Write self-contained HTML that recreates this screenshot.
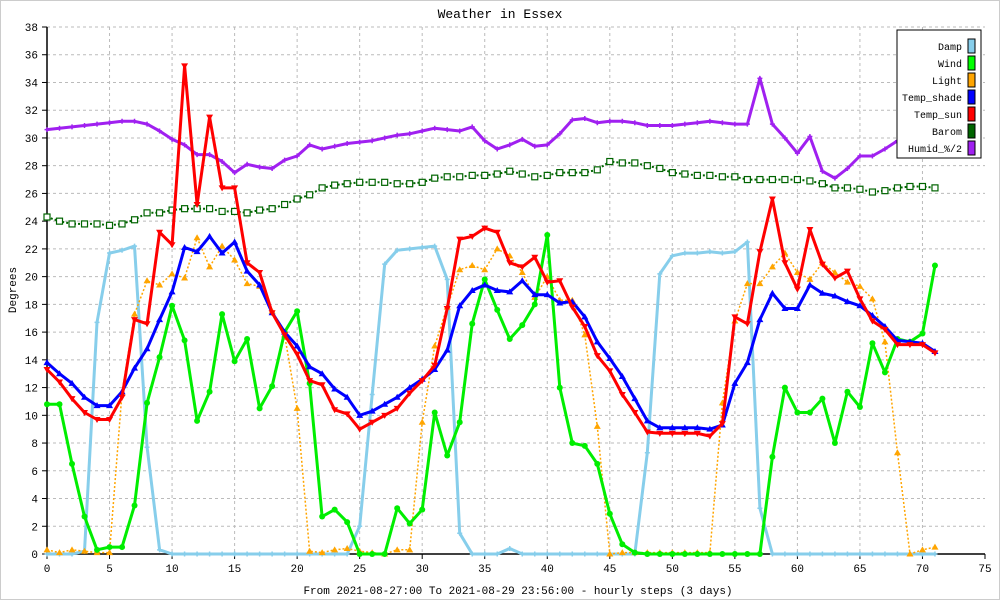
<!DOCTYPE html>
<html><head><meta charset="utf-8"><style>
body{margin:0;background:#fff}
svg{display:block;font-family:"Liberation Mono",monospace}
</style></head><body>
<svg id="c" width="1000" height="600" viewBox="0 0 1000 600">
<rect x="0.5" y="0.5" width="999" height="599" fill="#fff" stroke="#ccc"/>
<text x="500" y="18" text-anchor="middle" font-size="13">Weather in Essex</text>
<text x="518" y="594" text-anchor="middle" font-size="11">From 2021-08-27:00 To 2021-08-29 23:56:00 - hourly steps (3 days)</text>
<text x="16" y="290" text-anchor="middle" font-size="11" transform="rotate(-90 16 290)">Degrees</text>
<g id="grid"></g><g id="axes"></g><g id="series"></g><g id="legend"></g>
</svg>
<script>
const hours=[...Array(72).keys()];
const damp=[0,0,0,0.2,16.7,21.7,21.9,22.2,7.7,0.3,0,0,0,0,0,0,0,0,0,0,0,0,0,0,0,2,11.5,20.9,21.9,22,22.1,22.2,19.8,1.5,0,0,0,0.4,0,0,0,0,0,0,0,0,0,0,7.3,20.2,21.5,21.7,21.7,21.8,21.7,21.8,22.5,3.3,0,0,0,0,0,0,0,0,0,0,0,0,0,0];
const wind=[10.8,10.8,6.5,2.7,0.3,0.5,0.5,3.5,10.9,14.2,17.9,15.4,9.6,11.7,17.3,13.9,15.5,10.5,12.1,16,17.5,12.3,2.7,3.2,2.3,0,0,0,3.3,2.2,3.2,10.2,7.1,9.5,16.6,19.8,17.6,15.5,16.5,18,23,12,8,7.8,6.5,2.9,0.7,0.1,0,0,0,0,0,0,0,0,0,0,7,12,10.2,10.2,11.2,8,11.7,10.6,15.2,13.1,15.5,15.3,15.9,20.8];
const light=[0.3,0.1,0.3,0.2,0.1,0.1,11.6,17.3,19.7,19.4,20.2,19.9,22.8,20.7,22.2,21.2,19.5,19.3,17.5,15.8,10.5,0.2,0.1,0.3,0.4,0.2,0.1,0,0.3,0.3,9.5,15,17.8,20.5,20.8,20.5,22,21.5,20.3,18.5,20,18.3,18.3,15.8,9.2,0,0.1,0.1,0.1,0.1,0.1,0.1,0.1,0.1,10.9,16.8,19.5,19.5,20.7,21.7,20.3,19.8,21,20.3,19.6,19.3,18.4,15.3,7.3,0,0.3,0.5];
const tshade=[13.8,13,12.3,11.3,10.7,10.7,11.7,13.4,14.8,16.9,18.9,22.1,21.8,22.9,21.7,22.5,20.4,19.4,17.4,16,15,13.5,13,11.9,11.3,10,10.3,10.8,11.3,12,12.6,13.3,14.7,17.9,19,19.4,19,18.9,19.7,18.7,18.7,18.1,18.2,17.1,15.3,14.1,12.8,11.2,9.6,9.1,9.1,9.1,9.1,9,9.3,12.3,13.8,16.9,18.8,17.7,17.7,19.4,18.8,18.6,18.2,17.9,17.2,16.4,15.4,15.3,15.2,14.6];
const tsun=[13.3,12.4,11.2,10.2,9.7,9.7,11.3,16.9,16.6,23.2,22.3,35.2,25.2,31.5,26.4,26.4,21,20.3,17.4,15.8,14.4,12.5,12.2,10.4,10.1,9,9.5,10,10.5,11.6,12.5,13.6,17.7,22.7,22.9,23.5,23.2,21,20.7,21.4,19.6,19.7,17.8,16.4,14.3,13.2,11.5,10.2,8.8,8.7,8.7,8.7,8.7,8.5,9.4,17.1,16.6,21.8,25.6,21,19.1,23.4,20.9,19.9,20.4,18.4,16.8,16.2,15.1,15.1,15.1,14.5];
const barom=[24.3,24,23.8,23.8,23.8,23.7,23.8,24.1,24.6,24.6,24.8,24.9,24.9,24.9,24.7,24.7,24.6,24.8,24.9,25.2,25.6,25.9,26.4,26.6,26.7,26.8,26.8,26.8,26.7,26.7,26.8,27.1,27.2,27.2,27.3,27.3,27.4,27.6,27.4,27.2,27.3,27.5,27.5,27.5,27.7,28.3,28.2,28.2,28,27.8,27.5,27.4,27.3,27.3,27.2,27.2,27,27,27,27,27,26.9,26.7,26.4,26.4,26.3,26.1,26.2,26.4,26.5,26.5,26.4];
const humid=[30.6,30.7,30.8,30.9,31,31.1,31.2,31.2,31,30.5,29.9,29.5,28.8,28.8,28.3,27.5,28.1,27.9,27.8,28.4,28.7,29.5,29.2,29.4,29.6,29.7,29.8,30,30.2,30.3,30.5,30.7,30.6,30.5,30.8,29.8,29.2,29.5,29.9,29.4,29.5,30.3,31.3,31.4,31.1,31.2,31.2,31.1,30.9,30.9,30.9,31,31.1,31.2,31.1,31,31,34.3,31,30,28.9,30.1,27.6,27.1,27.8,28.7,28.7,29.2,29.8,30.3,30.8,31.2];
const xTicks=[0,5,10,15,20,25,30,35,40,45,50,55,60,65,70,75];
const yTicks=[0,2,4,6,8,10,12,14,16,18,20,22,24,26,28,30,32,34,36,38];
const seriesNames=["Damp","Wind","Light","Temp_shade","Temp_sun","Barom","Humid_%/2"];
const NS="http://www.w3.org/2000/svg";
const X0=47,X1=985,Y0=554,Y1=27;
const xs=v=>X0+(v-0)/75*(X1-X0);
const ys=v=>Y0-(v-0)/38*(Y0-Y1);
function mk(tag,attrs,parent){const e=document.createElementNS(NS,tag);for(const k in attrs)e.setAttribute(k,attrs[k]);parent.appendChild(e);return e;}
const grid=document.getElementById('grid'),axes=document.getElementById('axes'),ser=document.getElementById('series'),leg=document.getElementById('legend');
xTicks.forEach(t=>{
 if(t>0&&t<75){const l=mk('line',{x1:xs(t),x2:xs(t),y1:Y1,y2:Y0,stroke:'#bbb','stroke-dasharray':'3,3'},grid);
 
 }
 const tk=mk('line',{x1:xs(t),x2:xs(t),y1:Y0,y2:Y0+5,stroke:'#000'},axes);
 
 
 const tx=mk('text',{x:xs(t),y:Y0+18,'text-anchor':'middle','font-size':'11'},axes);tx.textContent=t;
 
 
});
yTicks.forEach(t=>{
 if(t>0){const l=mk('line',{x1:X0,x2:X1,y1:ys(t),y2:ys(t),stroke:'#bbb','stroke-dasharray':'3,3'},grid);
 
 }
 const tk=mk('line',{x1:X0-5,x2:X0,y1:ys(t),y2:ys(t),stroke:'#000'},axes);
 
 
 const tx=mk('text',{x:X0-9,y:ys(t)+4,'text-anchor':'end','font-size':'11'},axes);tx.textContent=t;
 
 
});
const ax=mk('path',{d:`M${X0},${Y1}V${Y0}H${X1}`,fill:'none',stroke:'#000','stroke-width':1.5},axes);


function marker(type,x,y,c,g){
 if(type==='circle')return mk('circle',{cx:x,cy:y,r:3,fill:c},g);
 if(type==='up')return mk('path',{d:`M${x},${y-3.5}L${x+3.5},${y+2.5}L${x-3.5},${y+2.5}Z`,fill:c},g);
 if(type==='down')return mk('path',{d:`M${x},${y+3.5}L${x+3.5},${y-2.5}L${x-3.5},${y-2.5}Z`,fill:c},g);
 if(type==='square')return mk('rect',{x:x-3,y:y-3,width:6,height:6,fill:'#fff',stroke:c,'stroke-width':1.2},g);
 if(type==='bsquare')return mk('path',{d:`M${x},${y-3.5}L${x+3.5},${y+2.5}L${x-3.5},${y+2.5}Z`,fill:c},g);
 if(type==='plus')return mk('path',{d:`M${x-2.5},${y}H${x+2.5}M${x},${y-2.5}V${y+2.5}`,stroke:c,'stroke-width':1.5},g);
}
function draw(name,data,color,width,dash,mtype){
 const g=mk('g',{},ser);
 
 
 const d=data.map((v,i)=>(i?'L':'M')+xs(hours[i]).toFixed(1)+','+ys(v).toFixed(1)).join('');
 const p=mk('path',{d:d,fill:'none',stroke:color,'stroke-width':width,'stroke-linejoin':'round'},g);
 if(dash)p.setAttribute('stroke-dasharray',dash);
 
 
 data.forEach((v,i)=>{const m=marker(mtype,xs(hours[i]),ys(v),color,g);
  
  });
}
draw('Barom',barom,'#006400',2,'2,2','square');
draw('Humid',humid,'#a020f0',3,null,'plus');
draw('Damp',damp,'#87ceeb',3,null,'plus');
draw('Light',light,'#ffa500',1.5,'2,2','up');
draw('Wind',wind,'#00ee00',3,null,'circle');
draw('Temp_shade',tshade,'#0000ff',3,null,'bsquare');
draw('Temp_sun',tsun,'#ff0000',3,null,'down');
const colors=['#87ceeb','#00ff00','#ffa500','#0000ff','#ff0000','#006400','#a020f0'];
const lb=mk('rect',{x:897,y:30,width:84,height:128,fill:'#fff',stroke:'#000'},leg);


seriesNames.forEach((n,i)=>{
 const y=46+i*17;
 const t=mk('text',{x:962,y:y+4,'text-anchor':'end','font-size':'10'},leg);t.textContent=n;
 
 
 const s=mk('rect',{x:968,y:y-7,width:7,height:14,fill:colors[i],stroke:'#000'},leg);
 
 
});
</script>
</body></html>
